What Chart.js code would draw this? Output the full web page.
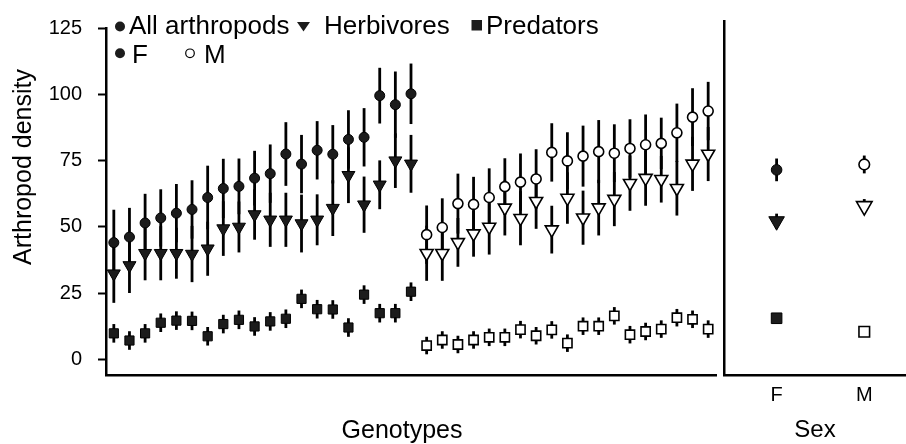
<!DOCTYPE html>
<html>
<head>
<meta charset="utf-8">
<script src="https://cdn.jsdelivr.net/npm/chart.js@4.4.1/dist/chart.umd.min.js"></script>
<style>
  html, body { margin: 0; padding: 0; background: #fff; }
  #wrap { position: relative; width: 906px; height: 444px; overflow: hidden; }
  #genoChart { position: absolute; left: 0; top: 0; }
  #sexChart { position: absolute; left: 716px; top: 0; }
</style>
</head>
<body>
<div id="wrap">
  <canvas id="genoChart" width="720" height="444"></canvas>
  <canvas id="sexChart" width="190" height="444"></canvas>
</div>
<script>
// genotype categories (females first, then males)
const femaleGenotypes = ['F1', 'F2', 'F3', 'F4', 'F5', 'F6', 'F7', 'F8', 'F9', 'F10',
  'F11', 'F12', 'F13', 'F14', 'F15', 'F16', 'F17', 'F18', 'F19', 'F20'];
const maleGenotypes = ['M1', 'M2', 'M3', 'M4', 'M5', 'M6', 'M7', 'M8', 'M9', 'M10',
  'M11', 'M12', 'M13', 'M14', 'M15', 'M16', 'M17', 'M18', 'M19'];

// female genotypes: means and error
const femAll = [44.1, 46.2, 51.5, 53.4, 55.2, 56.6, 61.1, 64.5, 65.3, 68.4,
  70.1, 77.5, 73.7, 78.9, 77.4, 83.0, 83.8, 99.5, 96.1, 100.2];
const femAllErr = [12.4, 11, 11, 10.8, 11, 11, 12, 11.2, 10.5, 10.3,
  11, 12, 11, 11, 11, 11, 11, 10.5, 12.5, 11.4];
const femHerb = [32.4, 35.5, 40.1, 40.1, 40.1, 39.8, 41.8, 49.4, 50.0, 54.7,
  52.7, 52.7, 51.3, 52.7, 57.1, 69.5, 58.4, 65.9, 75.0, 73.8];
const femHerbErr = [11, 10.4, 10.2, 10.2, 9.6, 10.6, 10.2, 10.3, 9.6, 9.5,
  10.2, 10.2, 10.9, 9.6, 10.5, 10.5, 10.6, 9.2, 10.3, 10.9];
const femPred = [9.9, 7.2, 9.9, 13.9, 14.7, 14.6, 8.8, 13.4, 15.0, 12.5,
  14.4, 15.4, 22.9, 19.0, 18.9, 12.1, 24.5, 17.5, 17.5, 25.6];
const femPredErr = [3.5, 3.5, 3.5, 3.5, 3.5, 3.5, 3.5, 3.5, 3.5, 3.5,
  3.5, 3.5, 3.5, 3.5, 3.5, 3.5, 3.5, 3.5, 3.5, 3.5];

// male genotypes
const malAll = [47.1, 49.8, 58.8, 58.5, 61.1, 65.2, 66.9, 68.1, 78.1, 74.9,
  76.7, 78.4, 77.8, 79.6, 81.0, 81.5, 85.5, 91.4, 93.7];
const malAllErr = [11, 11, 11.3, 10.4, 11, 10.7, 10.8, 11.2, 11, 10.8,
  11.5, 11.9, 10.9, 11, 11.4, 9.7, 11, 10.9, 11];
const malHerb = [40.1, 40.1, 44.2, 47.5, 50.0, 57.2, 53.3, 59.7, 49.0, 60.9,
  53.5, 57.3, 60.5, 66.5, 68.4, 68.0, 64.6, 73.8, 77.5];
const malHerbErr = [10.4, 10.4, 9.2, 8.7, 10.4, 10.4, 10.2, 10.4, 9, 9.7,
  10.2, 10.5, 10.2, 10.4, 10.4, 8.8, 10.3, 10.2, 10.2];
const malPred = [5.3, 7.4, 5.7, 7.4, 8.4, 8.4, 11.3, 9.0, 11.2, 6.2,
  12.6, 12.6, 16.5, 9.4, 10.6, 11.5, 15.8, 15.2, 11.5];
const malPredErr = [3.3, 3.3, 3.3, 3.3, 3.3, 3.3, 3.3, 3.3, 3.3, 3.3,
  3.3, 3.3, 3.3, 3.3, 3.3, 3.3, 3.3, 3.3, 3.3];

// sex means
const sexes = ['F', 'M'];
const sexAll = [70.1, 72.1];
const sexAllErr = [4.2, 3.3];
const sexHerb = [51.1, 56.7];
const sexHerbErr = [2.8, 2.6];
const sexPred = [15.2, 10.2];
const sexPredErr = [1, 1];

const yTicks = [0, 25, 50, 75, 100, 125];
const yMin = -5.8;
const yMax = 125;

const FONT = "'Liberation Sans', Arial, Helvetica, sans-serif";
Chart.defaults.font.family = FONT;
Chart.defaults.color = '#000';

const DARK = '#1c1c1c';

const genotypes = femaleGenotypes.concat(maleGenotypes);
const padF = arr => arr.concat(maleGenotypes.map(() => null));
const padM = arr => femaleGenotypes.map(() => null).concat(arr);

function markerSet(label, data, err, style, radius, filled) {
    return {
        label: label,
        data: data,
        errorBars: err,
        showLine: false,
        pointStyle: style,
        pointRadius: radius,
        pointHoverRadius: radius,
        pointRotation: style === 'triangle' ? 180 : 0,
        pointBackgroundColor: filled ? DARK : '#fff',
        pointBorderColor: '#000',
        pointBorderWidth: filled ? 1 : 1.6
    };
}

// vertical error bars, drawn under the markers
const errorBarPlugin = {
    id: 'errorBars',
    beforeDatasetsDraw(chart) {
        const ctx = chart.ctx;
        const yScale = chart.scales.y;
        ctx.save();
        ctx.strokeStyle = '#000';
        ctx.lineWidth = 2.8;
        chart.data.datasets.forEach((ds, di) => {
            if (!ds.errorBars) return;
            const meta = chart.getDatasetMeta(di);
            meta.data.forEach((pt, i) => {
                const e = ds.errorBars[i];
                const p = meta.controller.getParsed(i);
                if (pt.skip || e == null || !p || p.y == null || isNaN(p.y)) return;
                const top = yScale.getPixelForValue(p.y + e);
                const bot = yScale.getPixelForValue(p.y - e);
                ctx.beginPath();
                ctx.moveTo(pt.x, top);
                ctx.lineTo(pt.x, bot);
                ctx.stroke();
            });
        });
        ctx.restore();
    }
};

// legend block, y title and x title
const decorPlugin = {
    id: 'decor',
    afterDraw(chart) {
        const ctx = chart.ctx;
        ctx.save();
        ctx.fillStyle = '#000';
        ctx.strokeStyle = '#000';

        // y axis title
        ctx.save();
        ctx.translate(31, 167);
        ctx.rotate(-Math.PI / 2);
        ctx.font = '25px ' + FONT;
        ctx.textAlign = 'center';
        ctx.textBaseline = 'alphabetic';
        ctx.fillText('Arthropod density', 0, 0);
        ctx.restore();

        // x axis title
        ctx.font = '25px ' + FONT;
        ctx.textAlign = 'center';
        ctx.textBaseline = 'alphabetic';
        ctx.fillText('Genotypes', 402, 438);

        ctx.font = '26px ' + FONT;
        ctx.textAlign = 'left';

        // row 1
        ctx.fillStyle = DARK;
        ctx.beginPath(); ctx.arc(120, 26.5, 5, 0, Math.PI * 2); ctx.fill();
        ctx.beginPath();
        ctx.moveTo(297, 22); ctx.lineTo(310, 22); ctx.lineTo(303.5, 31.5);
        ctx.closePath(); ctx.fill();
        ctx.fillRect(471.5, 20, 10.5, 10.5);
        ctx.fillStyle = '#000';
        ctx.fillText('All arthropods', 129, 34);
        ctx.fillText('Herbivores', 324, 34);
        ctx.fillText('Predators', 486, 34);

        // row 2
        ctx.fillStyle = DARK;
        ctx.beginPath(); ctx.arc(120, 53.3, 5, 0, Math.PI * 2); ctx.fill();
        ctx.lineWidth = 1.2;
        ctx.beginPath(); ctx.arc(190, 53.3, 4.3, 0, Math.PI * 2); ctx.stroke();
        ctx.fillStyle = '#000';
        ctx.fillText('F', 132, 63);
        ctx.fillText('M', 204, 63);
        ctx.restore();
    }
};

const yAxisBase = {
    min: yMin,
    max: yMax,
    afterBuildTicks: s => { s.ticks = yTicks.map(v => ({value: v})); }
};

new Chart(document.getElementById('genoChart'), {
    type: 'line',
    data: {
        labels: genotypes,
        datasets: [
            markerSet('Predators F', padF(femPred), padF(femPredErr), 'rect', 6.5, true),
            markerSet('Predators M', padM(malPred), padM(malPredErr), 'rect', 6.5, false),
            markerSet('Herbivores F', padF(femHerb), padF(femHerbErr), 'triangle', 7.5, true),
            markerSet('Herbivores M', padM(malHerb), padM(malHerbErr), 'triangle', 7.5, false),
            markerSet('All F', padF(femAll), padF(femAllErr), 'circle', 5, true),
            markerSet('All M', padM(malAll), padM(malAllErr), 'circle', 5, false)
        ]
    },
    options: {
        responsive: false,
        animation: false,
        devicePixelRatio: 1,
        layout: {autoPadding: false, padding: {top: 21.5, right: 4, left: 0, bottom: 0}},
        plugins: {legend: {display: false}, tooltip: {enabled: false}},
        scales: {
            x: {
                type: 'category',
                offset: true,
                afterFit: s => { s.height = 69; },
                grid: {display: false},
                border: {display: true, color: '#000', width: 2.5},
                ticks: {display: false}
            },
            y: Object.assign({}, yAxisBase, {
                afterFit: s => { s.width = 106; },
                grid: {
                    display: true, drawOnChartArea: false, drawTicks: true,
                    tickLength: 8, tickWidth: 2, tickColor: '#000'
                },
                border: {display: true, color: '#000', width: 2.5},
                ticks: {padding: 16, font: {size: 20}, color: '#000'}
            })
        }
    },
    plugins: [errorBarPlugin, decorPlugin]
});

const sexPoints = arr => arr.map((v, i) => ({x: i + 1, y: v}));

function sexSet(label, data, err, style, radius) {
    return {
        label: label,
        data: sexPoints(data),
        errorBars: err,
        showLine: false,
        pointStyle: style,
        pointRadius: radius,
        pointHoverRadius: radius,
        pointRotation: style === 'triangle' ? 180 : 0,
        pointBackgroundColor: [DARK, '#fff'],
        pointBorderColor: '#000',
        pointBorderWidth: [1, 1.6]
    };
}

new Chart(document.getElementById('sexChart'), {
    type: 'scatter',
    data: {
        datasets: [
            sexSet('Predators', sexPred, sexPredErr, 'rect', 7.5),
            sexSet('Herbivores', sexHerb, sexHerbErr, 'triangle', 9),
            sexSet('All arthropods', sexAll, sexAllErr, 'circle', 5.3)
        ]
    },
    options: {
        responsive: false,
        animation: false,
        devicePixelRatio: 1,
        layout: {autoPadding: false, padding: {top: 21.5, right: 0, left: 0, bottom: 0}},
        plugins: {legend: {display: false}, tooltip: {enabled: false}},
        scales: {
            x: {
                type: 'linear',
                min: 0.4,
                max: 2.476,
                afterBuildTicks: s => { s.ticks = sexes.map((n, i) => ({value: i + 1})); },
                afterFit: s => { s.height = 69; },
                grid: {display: false},
                border: {display: true, color: '#000', width: 2.5},
                ticks: {
                    padding: 0, font: {size: 20}, color: '#000',
                    callback: (v, i) => sexes[i]
                },
                title: {
                    display: true, text: 'Sex', color: '#000',
                    font: {size: 24, lineHeight: 1}, padding: {top: 0, bottom: 2}
                }
            },
            y: Object.assign({}, yAxisBase, {
                afterFit: s => { s.width = 8; },
                grid: {display: false},
                border: {display: true, color: '#000', width: 2.5},
                ticks: {display: false}
            })
        }
    },
    plugins: [errorBarPlugin]
});
</script>
</body>
</html>
